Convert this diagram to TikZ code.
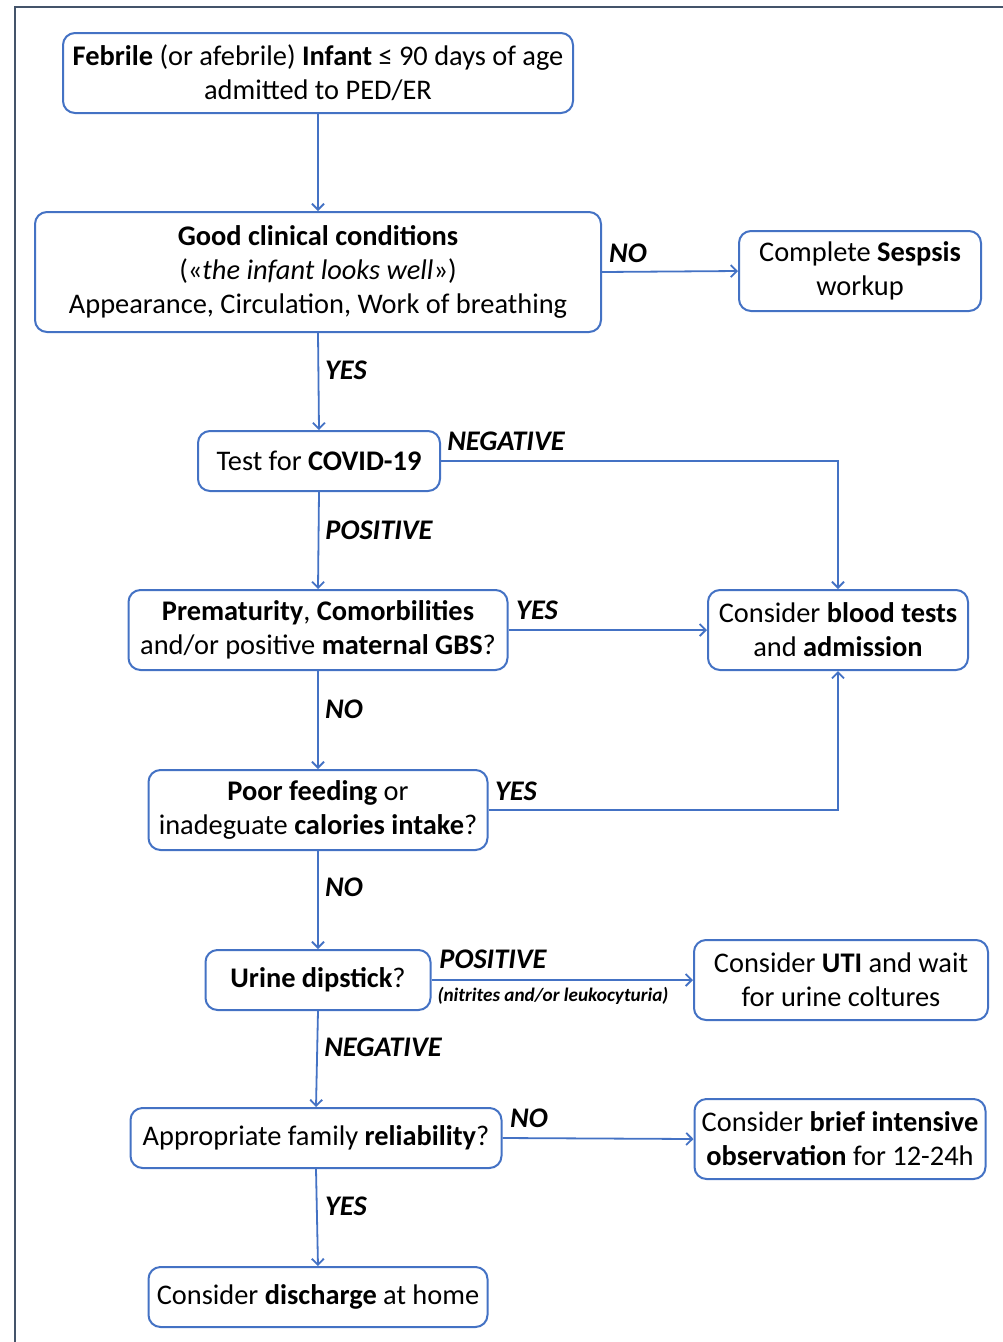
\documentclass[tikz,border=0pt]{standalone}
\usepackage{fontspec}
\setmainfont{Carlito}
\usetikzlibrary{arrows.meta}
\definecolor{fblue}{HTML}{4472C4}
\definecolor{frameclr}{HTML}{44546A}
\begin{document}
\begin{tikzpicture}[x=1pt,y=-1pt,
 box/.style={draw=fblue, line width=2pt, rounded corners=12pt, align=center, inner sep=0pt, font=\fontsize{28.4}{34}\selectfont, fill=white},
 arr/.style={draw=fblue, line width=1.8pt, -{Straight Barb[length=6pt,width=12pt]}},
 lbl/.style={font=\fontsize{28.4}{32}\selectfont\bfseries\itshape, inner sep=0pt},
 sm/.style={font=\fontsize{19.2}{22}\selectfont\bfseries\itshape, inner sep=0pt}]
\useasboundingbox (0,0) rectangle (1003,1342);
\draw[frameclr, line width=1.5pt] (15,1342) -- (15,7) -- (1003,7);

\node[box, minimum width=510pt, minimum height=80pt] (n1) at (318,73) {\textbf{Febrile} (or afebrile) \textbf{Infant} ≤ 90 days of age\\admitted to PED/ER};
\node[box, minimum width=566pt, minimum height=120pt] (n2) at (318,272) {\textbf{Good clinical conditions}\\(«\textit{the infant looks well}»)\\Appearance, Circulation, Work of breathing};
\node[box, minimum width=242pt, minimum height=80pt] (n3) at (860,271) {Complete \textbf{Sespsis}\\workup};
\node[box, minimum width=242pt, minimum height=60pt] (n4) at (319,461) {Test for \textbf{COVID-19}};
\node[box, minimum width=379pt, minimum height=80pt] (n5) at (318,630) {\textbf{Prematurity}, \textbf{Comorbilities}\\and/or positive \textbf{maternal GBS}?};
\node[box, minimum width=260pt, minimum height=80pt] (n6) at (838,630) {Consider \textbf{blood tests}\\and \textbf{admission}};
\node[box, minimum width=339pt, minimum height=80pt] (n7) at (318,810) {\textbf{Poor feeding} or\\inadeguate \textbf{calories intake}?};
\node[box, minimum width=225pt, minimum height=60pt] (n8) at (318,980) {\textbf{Urine dipstick}?};
\node[box, minimum width=294pt, minimum height=80pt] (n9) at (841,980) {Consider \textbf{UTI} and wait\\for urine coltures};
\node[box, minimum width=371pt, minimum height=60pt] (n10) at (316,1138) {Appropriate family \textbf{reliability}?};
\node[box, minimum width=291pt, minimum height=80pt] (n11) at (840,1139) {Consider \textbf{brief intensive}\\\textbf{observation} for 12-24h};
\node[box, minimum width=339pt, minimum height=60pt] (n12) at (318,1297) {Consider \textbf{discharge} at home};

\draw[arr] (n1.south) -- (n2.north);
\draw[arr] (n2.east) -- (n3.west);
\draw[arr] (n2.south) -- (n4.north);
\draw[arr] (n4.east) -| (n6.north);
\draw[arr] (n4.south) -- (n5.north);
\draw[arr] (n5.east) -- (n6.west);
\draw[arr] (n5.south) -- (n7.north);
\draw[arr] (n7.east) -| (n6.south);
\draw[arr] (n7.south) -- (n8.north);
\draw[arr] (n8.east) -- (n9.west);
\draw[arr] (n8.south) -- (n10.north);
\draw[arr] (n10.east) -- (n11.west);
\draw[arr] (n10.south) -- (n12.north);

\node[lbl] (l1) at (628,253) {NO};
\node[lbl] (l2) at (346,370) {YES};
\node[lbl] (l3) at (506,441) {NEGATIVE};
\node[lbl] (l4) at (379,530) {POSITIVE};
\node[lbl] (l5) at (537,610) {YES};
\node[lbl] (l6) at (344,709) {NO};
\node[lbl] (l7) at (516,791) {YES};
\node[lbl] (l8) at (344,887) {NO};
\node[lbl] (l9) at (493,959) {POSITIVE};
\node[sm] (l10) at (553,996) {(nitrites and/or leukocyturia)};
\node[lbl] (l11) at (383,1047) {NEGATIVE};
\node[lbl] (l12) at (529,1118) {NO};
\node[lbl] (l13) at (346,1206) {YES};
\end{tikzpicture}
\end{document}
